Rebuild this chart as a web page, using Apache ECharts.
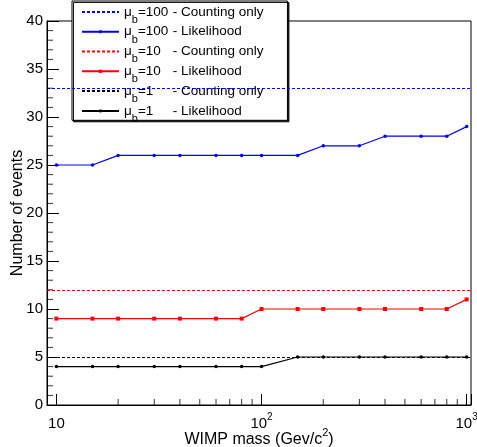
<!DOCTYPE html>
<html><head><meta charset="utf-8">
<script src="https://cdn.jsdelivr.net/npm/echarts@6/dist/echarts.min.js"></script>
<style>html,body{margin:0;padding:0;background:#fff}#c{width:477px;height:447px}</style>
</head><body><div id="c"></div><script>
// ---- data ----
const massValues = [10, 15, 20, 30, 40, 60, 80, 100, 150, 200, 300, 400, 600, 800, 1000];
const likelihoodMu100 = [25, 25, 26, 26, 26, 26, 26, 26, 26, 27, 27, 28, 28, 28, 29];
const likelihoodMu10 = [9, 9, 9, 9, 9, 9, 9, 10, 10, 10, 10, 10, 10, 10, 11];
const likelihoodMu1 = [4, 4, 4, 4, 4, 4, 4, 4, 5, 5, 5, 5, 5, 5, 5];
const countingMu100 = 33;
const countingMu10 = 12;
const countingMu1 = 5;
const xAxisMin = 9;
const xAxisMax = 1050;
const xMinorTickValues = [20, 30, 40, 50, 60, 70, 80, 90, 200, 300, 400, 500, 600, 700, 800, 900];
const yMinorTickValues = [1, 2, 3, 4, 6, 7, 8, 9, 11, 12, 13, 14, 16, 17, 18, 19, 21, 22, 23, 24, 26, 27, 28, 29, 31, 32, 33, 34, 36, 37, 38, 39];
const xTickLabels = {10: '10', 100: '10{sup|2}', 1000: '10{sup|3}'};
const seriesNames = ['c100', 'l100', 'c10', 'l10', 'c1', 'l1'];
const legendLabels = {
  c100: '{mu|μ}{sub|b}{v|=100}{t| - Counting only}',
  l100: '{mu|μ}{sub|b}{v|=100}{t| - Likelihood}',
  c10: '{mu|μ}{sub|b}{v|=10}{t| - Counting only}',
  l10: '{mu|μ}{sub|b}{v|=10}{t| - Likelihood}',
  c1: '{mu|μ}{sub|b}{v|=1}{t| - Counting only}',
  l1: '{mu|μ}{sub|b}{v|=1}{t| - Likelihood}'
};

const FONT = '"Liberation Sans", Arial, Helvetica, sans-serif';
const BLUE = '#0000ff', RED = '#ff0000', BLACK = '#000000';
const DASH = [3, 2];

function countSeries(name, color, value) {
  return {
    name: name, type: 'line', data: [], symbol: 'none', color: color,
    lineStyle: {color: color, width: 1, type: DASH},
    markLine: {
      silent: true, symbol: ['none', 'none'], label: {show: false}, animation: false,
      lineStyle: {color: color, width: 1, type: DASH},
      emphasis: {disabled: true},
      data: [{yAxis: value}]
    }
  };
}
function likeSeries(name, color, values, symbol, size) {
  return {
    name: name, type: 'line', color: color,
    data: massValues.map((m, i) => [m, values[i]]),
    symbol: symbol, symbolSize: size, showSymbol: true, showAllSymbol: true,
    lineStyle: {color: color, width: 1.2},
    itemStyle: {color: color},
    emphasis: {disabled: true}
  };
}

const chart = echarts.init(document.getElementById('c'), null, {renderer: 'canvas'});
chart.setOption({
  animation: false,
  backgroundColor: '#ffffff',
  textStyle: {fontFamily: FONT, color: BLACK},
  grid: {left: 47, right: 6, top: 21, bottom: 42, containLabel: false, outerBoundsMode: 'none',
         show: true, borderColor: BLACK, borderWidth: 1, backgroundColor: 'transparent'},
  legend: {
    orient: 'vertical', left: 72, top: 1, padding: [1, 24, -4, 9],
    itemWidth: 37, itemHeight: 4, itemGap: -3.5,
    backgroundColor: '#ffffff', borderColor: BLACK, borderWidth: 1,
    shadowColor: 'rgba(0,0,0,0.9)', shadowOffsetX: 1.5, shadowOffsetY: 1.5, shadowBlur: 0,
    selectedMode: false,
    data: seriesNames.map(n => n.charAt(0) === 'c' ? {name: n, itemStyle: {opacity: 0}} : {name: n}),
    formatter: n => legendLabels[n],
    textStyle: {
      fontFamily: FONT, fontSize: 13.5, color: BLACK, lineHeight: 19.8,
      rich: {
        mu: {fontFamily: FONT, fontSize: 13.5, lineHeight: 19.8, color: BLACK},
        sub: {fontFamily: FONT, fontSize: 11, height: 4, verticalAlign: 'bottom', color: BLACK},
        v: {fontFamily: FONT, fontSize: 13.5, lineHeight: 19.8, width: 31, color: BLACK},
        t: {fontFamily: FONT, fontSize: 13.5, lineHeight: 19.8, color: BLACK}
      }
    }
  },
  xAxis: {
    type: 'log', logBase: 10, min: xAxisMin, max: xAxisMax,
    axisLine: {show: true, lineStyle: {color: BLACK, width: 1}},
    axisTick: {show: true, inside: true, length: 11, lineStyle: {color: BLACK, width: 1}},
    splitLine: {show: false},
    axisLabel: {
      margin: 10, fontSize: 15, fontFamily: FONT, color: BLACK, lineHeight: 17,
      formatter: v => xTickLabels[Math.round(v)] || '',
      rich: {sup: {fontSize: 10, fontFamily: FONT, color: BLACK, height: 4, verticalAlign: 'top'}}
    },
    name: 'WIMP mass (Gev/c{sup|2})', nameLocation: 'middle', nameGap: 26, nameMoveOverlap: false,
    nameTextStyle: {
      fontSize: 16, fontFamily: FONT, color: BLACK, lineHeight: 18,
      rich: {sup: {fontSize: 11, fontFamily: FONT, color: BLACK, height: 4, verticalAlign: 'top'}}
    }
  },
  yAxis: {
    type: 'value', min: 0, max: 40, interval: 5,
    axisLine: {show: true, lineStyle: {color: BLACK, width: 1}},
    axisTick: {show: true, inside: true, length: 12, lineStyle: {color: BLACK}},
    minorTick: {show: false},
    splitLine: {show: false},
    axisLabel: {margin: 4, fontSize: 15, fontFamily: FONT, color: BLACK},
    name: 'Number of events', nameLocation: 'middle', nameGap: 21, nameMoveOverlap: false,
    nameTextStyle: {fontSize: 16, fontFamily: FONT, color: BLACK}
  },
  series: [
    countSeries('c100', BLUE, countingMu100),
    likeSeries('l100', BLUE, likelihoodMu100, 'circle', 3.5),
    countSeries('c10', RED, countingMu10),
    likeSeries('l10', RED, likelihoodMu10, 'rect', 4),
    countSeries('c1', BLACK, countingMu1),
    likeSeries('l1', BLACK, likelihoodMu1, 'circle', 3.5),
    {
      name: 'xMinorTicks', type: 'scatter', silent: true, clip: false, z: 5,
      data: xMinorTickValues.map(v => [v, 0]),
      symbol: 'rect', symbolSize: [1, 6], symbolOffset: [0, -3],
      itemStyle: {color: BLACK}
    },
    {
      name: 'yMinorTicks', type: 'scatter', silent: true, clip: false, z: 5,
      data: yMinorTickValues.map(v => [xAxisMin, v]),
      symbol: 'rect', symbolSize: [6, 1], symbolOffset: [3, 0],
      itemStyle: {color: BLACK}
    }
  ]
});
</script></body></html>
